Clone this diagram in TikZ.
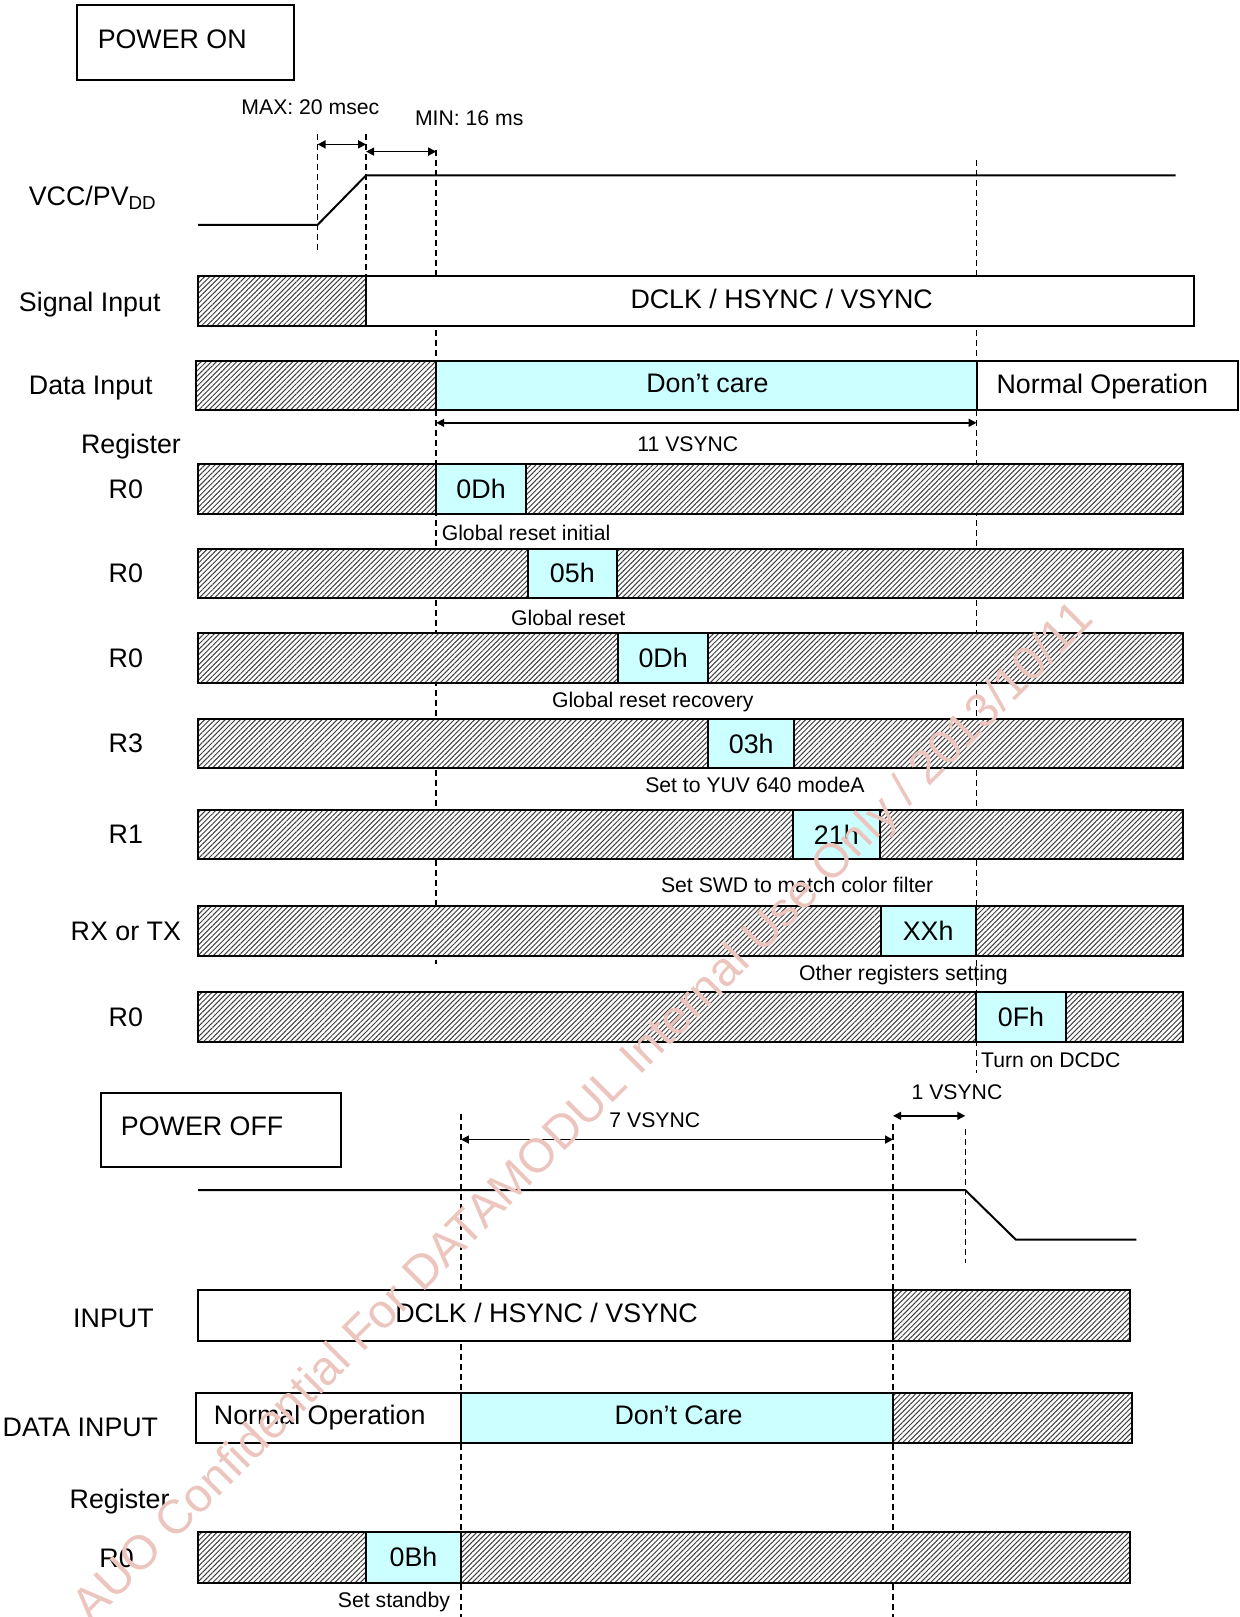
\documentclass[tikz,border=0pt]{standalone}
\usepackage{fontspec}
\setmainfont{Liberation Sans}
\usetikzlibrary{arrows.meta,patterns.meta}
\definecolor{dontcare}{RGB}{204,255,255}
\definecolor{stampred}{RGB}{236,198,190}
\tikzstyle{hatch} = [draw=black, line width=1pt, preaction={fill=white}, pattern={Lines[angle=45,distance=1.8pt,line width=0.5pt]}, pattern color=black!75]
\tikzstyle{clear} = [draw=black, line width=1pt, fill=white]
\tikzstyle{care} = [draw=black, line width=1pt, fill=dontcare]
\tikzstyle{guide} = [black, line width=0.75pt, dash pattern=on 3pt off 2pt]
\tikzstyle{supply} = [black, line width=1pt]
\tikzstyle{span} = [{Triangle[length=4pt,width=4pt]}-{Triangle[length=4pt,width=4pt]}, line width=0.75pt]
\tikzstyle{big} = [font=\fontsize{13.4}{15}\selectfont, inner sep=0pt]
\tikzstyle{small} = [font=\fontsize{10.6}{12}\selectfont, inner sep=0pt]

\begin{document}
\begin{tikzpicture}[x=0.5155pt, y=-0.5155pt]
    \useasboundingbox (0,0) rectangle (1202,1568);

    % POWER ON
    \draw[line width=1pt] (75,5) rectangle (285,78);
    \node [big] (pwron) at (167,38) {POWER ON};

    \coordinate (rise0) at (308,130);
    \coordinate (rise1) at (355,130);
    \coordinate (start) at (423,145);
    \coordinate (ready) at (947,155);
    \draw[guide] (rise0) -- (308,243);
    \draw[guide] (rise1) -- (355,268);
    \draw[guide] (start) -- (423,935);
    \draw[guide] (ready) -- (947,1040);

    \draw[span] (308,140) -- (355,140);
    \draw[span] (355,147) -- (423,147);
    \node [small] (tmax) at (301,104) {MAX: 20 msec};
    \node [small] (tmin) at (455,115) {MIN: 16 ms};

    \node [big] (vcc) at (90,192) {VCC/PV\textsubscript{DD}};
    \draw[supply] (192,218) -- (308,218) -- (355,170) -- (1140,170);

    \node [big] (sig) at (87,295) {Signal Input};
    \draw[hatch] (192,268) rectangle (355,316);
    \draw[clear] (355,268) rectangle (1158,316);
    \node [big] (sigval) at (758,290) {DCLK / HSYNC / VSYNC};

    \node [big] (dat) at (88,376) {Data Input};
    \draw[hatch] (190,350) rectangle (423,398);
    \draw[care] (423,350) rectangle (947,398);
    \draw[clear] (947,350) rectangle (1200,398);
    \node [big] (datdc) at (686,372) {Don’t care};
    \node [big] (datno) at (1069,375) {Normal Operation};

    \draw[span] (start |- 0,410) -- (ready |- 0,410);
    \node [small] (v11) at (667,431) {11 VSYNC};
    \node [big] (regon) at (127,433) {Register};

    \foreach \y/\reg/\a/\b/\val/\cx/\cy/\an/\cap in {
        450/R0/423/510/0Dh/428/517/west/Global reset initial,
        532/R0/512/598/05h/551/599/center/Global reset,
        614/R0/599/687/0Dh/633/681/center/Global reset recovery,
        697/R3/687/770/03h/732/761/center/Set to YUV 640 modeA,
        785/R1/769/853/21h/773/858/center/Set SWD to match color filter,
        879/RX or TX/854/946/XXh/876/945/center/Other registers setting,
        962/R0/946/1034/0Fh/951/1028/west/Turn on DCDC}
    {
        \node [big] (reg\y) at (122,\y+24) {\reg};
        \draw[hatch] (192,\y) rectangle (1147,\y+48);
        \draw[care] (\a,\y) rectangle (\b,\y+48);
        \node [big] (val\y) at ({(\a+\b)/2},\y+24) {\val};
        \node [small, anchor=\an] (cap\y) at (\cx,\cy) {\cap};
    }

    % POWER OFF
    \draw[line width=1pt] (98,1060) rectangle (331,1132);
    \node [big] (pwroff) at (196,1092) {POWER OFF};

    \coordinate (stop) at (447,1080);
    \coordinate (halt) at (866,1090);
    \coordinate (drop) at (936,1095);
    \draw[guide] (stop) -- (447,1568);
    \draw[guide] (halt) -- (866,1568);
    \draw[guide] (drop) -- (936,1225);

    \draw[span] (stop |- 0,1105) -- (halt |- 0,1105);
    \draw[span] (halt |- 0,1082) -- (drop |- 0,1082);
    \node [small] (v7) at (635,1086) {7 VSYNC};
    \node [small] (v1) at (928,1059) {1 VSYNC};

    \draw[supply] (192,1154) -- (936,1154) -- (985,1202) -- (1102,1202);

    \node [big] (inp) at (110,1278) {INPUT};
    \draw[clear] (192,1251) rectangle (866,1300);
    \draw[hatch] (866,1251) rectangle (1096,1300);
    \node [big] (inpval) at (530,1273) {DCLK / HSYNC / VSYNC};

    \node [big] (datoff) at (78,1384) {DATA INPUT};
    \draw[clear] (190,1351) rectangle (447,1399);
    \draw[care] (447,1351) rectangle (866,1399);
    \draw[hatch] (866,1351) rectangle (1098,1399);
    \node [big] (offno) at (310,1375) {Normal Operation};
    \node [big] (offdc) at (658,1372) {Don’t Care};

    \node [big] (regoff) at (116,1456) {Register};
    \node [big] (regsb) at (113,1511) {R0};
    \draw[hatch] (192,1486) rectangle (1096,1535);
    \draw[care] (355,1486) rectangle (447,1535);
    \node [big] (valsb) at (401,1510) {0Bh};
    \node [small] (capsb) at (382,1553) {Set standby};

    % watermark
    \node [font=\fontsize{23.9}{26}\selectfont, text=stampred, rotate=45] (stamp) at (567,1080) {AUO Confidential For DATAMODUL Internal Use Only / 2013/10/11};
\end{tikzpicture}
\end{document}
